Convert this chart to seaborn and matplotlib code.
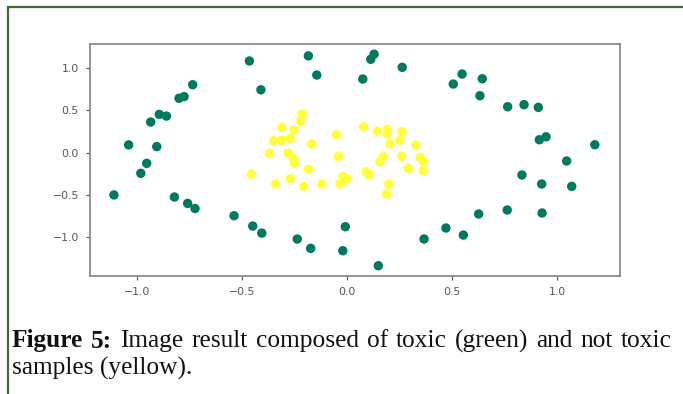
import matplotlib
matplotlib.use("Agg")
import matplotlib.pyplot as plt
import seaborn as sns
import pandas as pd
from matplotlib.patches import Rectangle

# toxic (green) samples
toxic_x = [-0.465, -0.41, -0.735, -0.776, -0.80, -0.86, -0.894, -0.935, -1.04, -0.906,
           -0.954, -0.982, -1.11, -0.822, -0.759, -0.724, -0.538, -0.449, -0.406,
           -0.008, -0.237, -0.173, -0.02, 0.149, 0.367, 0.471,
           0.554, 0.627, 0.763, 0.929, 0.833, 0.927, 1.07, 1.046,
           0.548, 0.506, 0.644, 0.633, 0.765, 0.843, 0.911, 0.948, 0.916, 1.18,
           -0.184, -0.144, 0.129, 0.113, 0.075, 0.263]
toxic_y = [1.08, 0.74, 0.80, 0.66, 0.64, 0.43, 0.45, 0.36, 0.09, 0.07,
           -0.127, -0.245, -0.50, -0.525, -0.60, -0.66, -0.745, -0.867, -0.95,
           -0.875, -1.02, -1.13, -1.158, -1.335, -1.02, -0.89,
           -0.973, -0.725, -0.678, -0.713, -0.265, -0.371, -0.399, -0.10,
           0.926, 0.808, 0.87, 0.67, 0.54, 0.564, 0.533, 0.186, 0.151, 0.092,
           1.14, 0.914, 1.16, 1.10, 0.867, 1.005]

# not toxic (yellow) samples
safe_x = [-0.213, -0.22, -0.311, -0.252, -0.35, -0.31, -0.27, -0.168, -0.05, 0.08,
          0.144, 0.192, 0.192, 0.262, 0.252, 0.205, 0.327, -0.37, -0.28, -0.256,
          -0.25, -0.184, -0.04, 0.173, 0.157, 0.26, 0.348, 0.365, 0.292, 0.363,
          -0.456, -0.34, -0.27, -0.206, -0.12, -0.033, -0.02, 0.0, 0.09, 0.106,
          0.199, 0.189]
safe_y = [0.454, 0.37, 0.297, 0.265, 0.14, 0.145, 0.165, 0.10, 0.21, 0.304,
          0.25, 0.274, 0.218, 0.25, 0.147, 0.10, 0.088, -0.01, -0.006, -0.07,
          -0.128, -0.198, -0.045, -0.045, -0.108, -0.045, -0.057, -0.108, -0.187, -0.214,
          -0.254, -0.371, -0.31, -0.40, -0.371, -0.371, -0.28, -0.31, -0.226, -0.265,
          -0.373, -0.49]

x_ticks = [-1.0, -0.5, 0.0, 0.5, 1.0]
y_ticks = [-1.0, -0.5, 0.0, 0.5, 1.0]
caption_bold = "Figure 5:"
caption_rest = "Image result composed of toxic (green) and not toxic"
caption_line2 = "samples (yellow)."

df = pd.DataFrame({
    "x": toxic_x + safe_x,
    "y": toxic_y + safe_y,
    "cls": ["toxic"] * len(toxic_x) + ["not toxic"] * len(safe_x),
})

sns.set_style("white")
fig = plt.figure(figsize=(6.83, 3.94), dpi=100)
ax = fig.add_axes([90 / 683, 1 - 276 / 394, 530 / 683, 232 / 394])

sns.scatterplot(data=df, x="x", y="y", hue="cls",
                palette={"toxic": "#007a5e", "not toxic": "#ffff3a"},
                s=46, linewidth=0, legend=False, ax=ax)

ax.set_xlim(-1.224, 1.30)
ax.set_ylim(-1.456, 1.28)
ax.set_xticks(x_ticks)
ax.set_yticks(y_ticks)
ax.set_xticklabels([f"{v:.1f}".replace("-", "\u2212") for v in x_ticks])
ax.set_yticklabels([f"{v:.1f}".replace("-", "\u2212") for v in y_ticks])
ax.set_xlabel("")
ax.set_ylabel("")
ax.tick_params(axis="both", labelsize=7.8, colors="#555555", length=3, width=0.8,
               direction="out", bottom=True, left=True, pad=5)
for sp in ax.spines.values():
    sp.set_color("#8a8a8a")
    sp.set_linewidth(1.3)

# outer frame
fig.add_artist(Rectangle((8 / 683, -0.1), 1.2, (394 - 7) / 394 + 0.1,
                         transform=fig.transFigure, fill=False,
                         edgecolor="#3f6e35", linewidth=1.6))

# caption (first line justified to full width)
fs = 18.3
W = fig.bbox.width
left_px, right_px = 12, 672
y1 = 1 - 341 / 394
words = [(w, "bold") for w in caption_bold.split()] + \
        [(w, "normal") for w in caption_rest.split()]
texts = [fig.text(0, y1, w, fontsize=fs, fontweight=wt, family="Liberation Serif",
                  va="center", ha="left", color="#111111") for w, wt in words]
fig.canvas.draw()
r = fig.canvas.get_renderer()
widths = [t.get_window_extent(r).width for t in texts]
gap = (right_px - left_px - sum(widths)) / (len(texts) - 1)
xpos = left_px
for t, w in zip(texts, widths):
    t.set_x(xpos / W)
    xpos += w + gap
fig.text(left_px / W, 1 - 368 / 394, caption_line2, fontsize=fs,
         family="Liberation Serif", va="center", ha="left", color="#111111")

fig.savefig("out.png", dpi=100)
